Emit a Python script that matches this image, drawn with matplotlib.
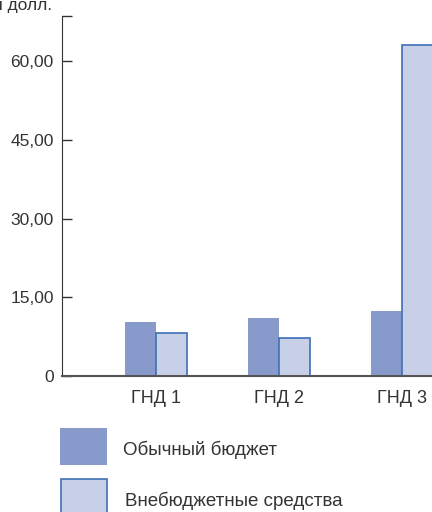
import numpy as np
import matplotlib
matplotlib.use("Agg")
import matplotlib.pyplot as plt
from matplotlib.patches import Rectangle

plt.rcParams['font.family'] = ['Liberation Sans', 'DejaVu Sans']

# Данные
groups = ["ГНД 1", "ГНД 2", "ГНД 3"]
regular_budget = [10.3, 11.0, 12.4]
extra_budget = [8.2, 7.2, 63.0]
y_ticks = [0, 15, 30, 45, 60]
y_tick_labels = ["0", "15,00", "30,00", "45,00", "60,00"]
series_names = ["Обычный бюджет", "Внебюджетные средства"]

dark = '#879acb'
light = '#c8d0e8'
edge = '#3d70b8'
text_color = '#333333'

fig = plt.figure(figsize=(4.32, 5.12), dpi=100)
ax = fig.add_axes([62 / 432, 1 - 376 / 512, 1 - 62 / 432, 360 / 512])

x = np.arange(len(groups))
w = 0.252
ax.bar(x - w / 2, regular_budget, w, color=dark, linewidth=0, zorder=2)
ax.bar(x + w / 2, extra_budget, w, color=light, edgecolor=edge, linewidth=1.2, zorder=2)

ax.set_xlim(-0.764, 2.244)
ax.set_ylim(0, 68.6)
ax.set_yticks(y_ticks + [68.6])
ax.set_yticklabels(y_tick_labels + [""])
ax.set_xticks(x)
ax.set_xticklabels(groups)
ax.tick_params(axis='y', direction='in', length=7, width=1, color='#333333',
               labelsize=12.5, labelcolor=text_color, pad=6)
ax.tick_params(axis='x', length=0, labelsize=13, labelcolor=text_color, pad=10)

for s in ['top', 'right']:
    ax.spines[s].set_visible(False)
ax.spines['left'].set_color('#333333')
ax.spines['bottom'].set_color('#555555')
ax.spines['bottom'].set_linewidth(1.5)
ax.spines['bottom'].set_zorder(3)

fig.text(52 / 432, 1 - 10 / 512, "млн долл.", ha='right', va='baseline',
         fontsize=12.5, color=text_color)

# Легенда
fig.patches.append(Rectangle((60 / 432, 1 - 465 / 512), 47 / 432, 37 / 512,
                             transform=fig.transFigure, facecolor=dark, linewidth=0))
fig.patches.append(Rectangle((61 / 432, 1 - 520 / 512), 46 / 432, 41 / 512,
                             transform=fig.transFigure, facecolor=light,
                             edgecolor=edge, linewidth=1.2))
fig.text(123 / 432, 1 - 450 / 512, series_names[0], ha='left', va='center',
         fontsize=13.5, color=text_color)
fig.text(125 / 432, 1 - 501 / 512, series_names[1], ha='left', va='center',
         fontsize=13.5, color=text_color)

fig.savefig("out.png", dpi=100)
